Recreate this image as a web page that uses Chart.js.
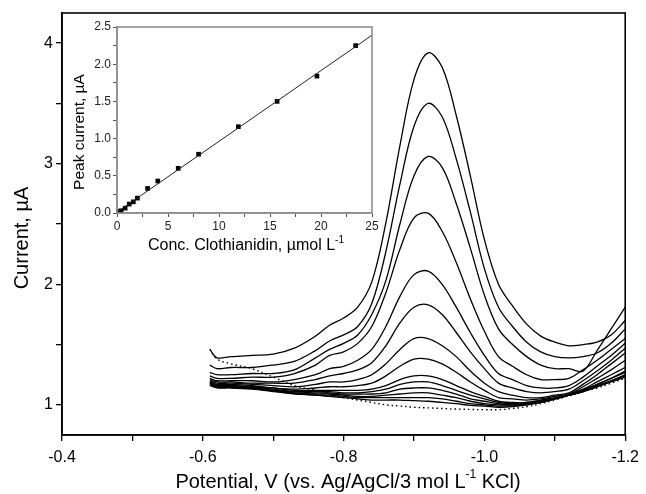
<!DOCTYPE html>
<html><head><meta charset="utf-8">
<script src="https://cdn.jsdelivr.net/npm/chart.js@4.4.1/dist/chart.umd.min.js"></script>
<style>
html,body{margin:0;padding:0;background:#fff;}
#wrap{position:relative;width:646px;height:494px;overflow:hidden;}
#main{position:absolute;left:0;top:0;}
#inset{position:absolute;left:64px;top:15px;}
</style></head><body>
<div id="wrap"><canvas id="main" width="646" height="494"></canvas><canvas id="inset" width="320" height="250"></canvas></div>
<script>
// ---- main voltammograms: potential (V) and current (µA) ----
const potential = [-0.61,-0.62,-0.64,-0.67,-0.70,-0.73,-0.76,-0.78,-0.80,-0.82,-0.84,-0.86,-0.88,-0.90,-0.92,-0.94,-0.96,-0.98,-1.00,-1.02,-1.04,-1.06,-1.08,-1.10,-1.12,-1.14,-1.16,-1.18,-1.20];
const curve1  = [1.46,1.39,1.40,1.41,1.42,1.47,1.57,1.66,1.72,1.81,2.02,2.51,3.15,3.70,3.92,3.80,3.40,2.90,2.37,2.00,1.82,1.67,1.57,1.52,1.49,1.50,1.52,1.58,1.70];
const curve2  = [1.33,1.30,1.31,1.31,1.33,1.36,1.45,1.53,1.58,1.65,1.84,2.27,2.83,3.31,3.50,3.39,3.04,2.60,2.13,1.81,1.65,1.52,1.44,1.40,1.39,1.40,1.43,1.51,1.63];
const curve3  = [1.27,1.25,1.25,1.26,1.26,1.29,1.39,1.46,1.51,1.58,1.75,2.03,2.50,2.90,3.06,2.97,2.67,2.30,1.91,1.63,1.50,1.40,1.33,1.30,1.30,1.28,1.45,1.63,1.81];
const curve4  = [1.24,1.22,1.22,1.23,1.23,1.26,1.33,1.41,1.44,1.51,1.65,1.93,2.29,2.55,2.59,2.44,2.18,1.88,1.61,1.40,1.32,1.25,1.21,1.21,1.22,1.29,1.37,1.46,1.55];
const curve5  = [1.22,1.20,1.20,1.20,1.19,1.21,1.25,1.30,1.32,1.37,1.46,1.65,1.90,2.08,2.11,2.00,1.81,1.60,1.41,1.26,1.21,1.16,1.14,1.14,1.16,1.23,1.32,1.41,1.51];
const curve6  = [1.21,1.19,1.19,1.18,1.18,1.18,1.21,1.24,1.26,1.29,1.35,1.49,1.68,1.81,1.83,1.75,1.60,1.44,1.30,1.18,1.14,1.11,1.10,1.11,1.13,1.20,1.28,1.37,1.47];
const curve7  = [1.20,1.18,1.18,1.17,1.16,1.15,1.17,1.19,1.19,1.21,1.25,1.34,1.46,1.55,1.55,1.49,1.40,1.28,1.18,1.11,1.08,1.06,1.06,1.08,1.10,1.17,1.25,1.34,1.43];
const curve8  = [1.19,1.17,1.17,1.16,1.14,1.13,1.14,1.15,1.15,1.16,1.18,1.24,1.32,1.38,1.38,1.34,1.27,1.19,1.12,1.06,1.05,1.04,1.05,1.07,1.09,1.15,1.22,1.29,1.37];
const curve9  = [1.19,1.16,1.16,1.15,1.14,1.12,1.12,1.12,1.12,1.12,1.13,1.16,1.21,1.24,1.24,1.21,1.16,1.11,1.07,1.03,1.02,1.02,1.04,1.06,1.09,1.13,1.19,1.25,1.31];
const curve10 = [1.18,1.16,1.16,1.15,1.13,1.11,1.11,1.11,1.10,1.10,1.11,1.13,1.17,1.19,1.19,1.16,1.12,1.08,1.05,1.02,1.01,1.02,1.03,1.05,1.08,1.12,1.17,1.22,1.28];
const curve11 = [1.18,1.155,1.15,1.14,1.12,1.11,1.10,1.10,1.09,1.09,1.09,1.10,1.13,1.14,1.14,1.12,1.09,1.05,1.03,1.01,1.00,1.01,1.03,1.05,1.08,1.12,1.17,1.22,1.27];
const curve12 = [1.17,1.15,1.15,1.14,1.12,1.10,1.09,1.09,1.08,1.07,1.07,1.08,1.09,1.10,1.10,1.08,1.06,1.03,1.01,1.00,1.00,1.01,1.02,1.05,1.08,1.11,1.16,1.20,1.25];
const curve13 = [1.17,1.145,1.145,1.135,1.115,1.095,1.08,1.08,1.07,1.06,1.06,1.06,1.06,1.06,1.06,1.05,1.03,1.01,1.00,0.99,0.99,1.00,1.02,1.05,1.08,1.11,1.15,1.20,1.24];
const curve14 = [1.16,1.14,1.14,1.13,1.11,1.09,1.08,1.07,1.06,1.05,1.04,1.04,1.04,1.035,1.03,1.02,1.01,0.995,0.99,0.98,0.985,1.00,1.02,1.05,1.08,1.11,1.15,1.19,1.23];
const blank   = [1.46,1.38,1.34,1.30,1.23,1.16,1.12,1.09,1.06,1.04,1.02,1.00,0.99,0.98,0.975,0.97,0.965,0.962,0.96,0.96,0.97,0.985,1.01,1.04,1.075,1.11,1.14,1.18,1.22];
const solidCurves = [curve1,curve2,curve3,curve4,curve5,curve6,curve7,curve8,curve9,curve10,curve11,curve12,curve13,curve14];

const xTicks = [-0.4,-0.5,-0.6,-0.7,-0.8,-0.9,-1.0,-1.1,-1.2];
const xLabeled = [-0.4,-0.6,-0.8,-1.0,-1.2];
const yTicks = [1,1.5,2,2.5,3,3.5,4];
const yLabeled = [1,2,3,4];

// ---- inset calibration ----
const conc = [0.2,0.4,0.8,1.2,1.6,2.0,3.0,4.0,6.0,8.0,11.9,15.7,19.6,23.4];
const peakCurrent = [0.02,0.03,0.065,0.12,0.15,0.20,0.33,0.43,0.60,0.79,1.16,1.50,1.84,2.25];
const fitConc = [0,25];
const fitCurrent = [0.012,2.39];
const insetXTicks = [0,2.5,5,7.5,10,12.5,15,17.5,20,22.5,25];
const insetXLabeled = [0,5,10,15,20,25];
const insetYTicks = [0,0.25,0.5,0.75,1.0,1.25,1.5,1.75,2.0,2.25,2.5];
const insetYLabeled = [0,0.5,1.0,1.5,2.0,2.5];

const near = (list, v) => list.some(m => Math.abs(m - v) < 1e-6);
const pts = (xs, ys) => xs.map((x, i) => ({x, y: ys[i]}));
const FONT = "'Liberation Sans', Arial, sans-serif";

function drawSupTitle(ctx, pre, sup, post, cx, cy, size, rot) {
  ctx.save();
  ctx.translate(cx, cy);
  if (rot) ctx.rotate(rot);
  const f = size + 'px ' + FONT, fs = Math.round(size * 0.62) + 'px ' + FONT;
  ctx.font = f; const w1 = ctx.measureText(pre).width; const w3 = ctx.measureText(post).width;
  ctx.font = fs; const w2 = sup ? ctx.measureText(sup).width : 0;
  let x = -(w1 + w2 + w3) / 2;
  ctx.fillStyle = '#000'; ctx.textBaseline = 'middle'; ctx.textAlign = 'left';
  ctx.font = f; ctx.fillText(pre, x, 0); x += w1;
  if (sup) { ctx.font = fs; ctx.fillText(sup, x, -size * 0.38); x += w2; }
  ctx.font = f; ctx.fillText(post, x, 0);
  ctx.restore();
}

const framePlugin = {
  id: 'frame',
  afterDraw(chart, args, o) {
    const {ctx, chartArea: a} = chart;
    ctx.save();
    ctx.strokeStyle = o.color; ctx.lineWidth = o.width;
    ctx.strokeRect(a.left, a.top, a.right - a.left, a.bottom - a.top);
    ctx.restore();
    (o.titles || []).forEach(t => drawSupTitle(ctx, t.pre, t.sup, t.post, t.x, t.y, t.size, t.rot));
  }
};

new Chart(document.getElementById('main'), {
  type: 'line',
  data: {
    datasets: solidCurves.map(c => ({
      data: pts(potential, c), borderColor: '#000', borderWidth: 1.3,
      pointRadius: 0, tension: 0.35, fill: false
    })).concat([{
      data: pts(potential, blank), borderColor: '#000', borderWidth: 1.4, borderDash: [1.5, 3],
      pointRadius: 0, tension: 0.35, fill: false
    }])
  },
  plugins: [framePlugin],
  options: {
    responsive: false, animation: false, devicePixelRatio: 1,
    layout: {padding: {left: 0, right: 14, top: 13, bottom: 0}},
    plugins: {
      legend: {display: false}, tooltip: {enabled: false},
      frame: {color: '#000', width: 1.6, titles: [
        {pre: 'Potential, V (vs. Ag/AgCl/3 mol L', sup: '-1', post: ' KCl)', x: 348, y: 482, size: 20},
        {pre: 'Current, µA', sup: '', post: '', x: 22, y: 238, size: 20, rot: -Math.PI / 2}
      ]}
    },
    scales: {
      x: {
        type: 'linear', min: -1.2, max: -0.4, reverse: true,
        afterBuildTicks: ax => { ax.ticks = xTicks.map(v => ({value: v})); },
        afterFit: ax => { ax.height = 59; },
        grid: {display: true, drawOnChartArea: false, drawTicks: true, tickLength: 6, color: '#000', lineWidth: 1.3},
        border: {display: true, color: '#000', width: 1.6},
        ticks: {autoSkip: false, maxRotation: 0, padding: 7, color: '#000', font: {family: FONT, size: 16},
          callback: v => near(xLabeled, v) ? v.toFixed(1) : ''}
      },
      y: {
        type: 'linear', min: 0.75, max: 4.25,
        afterBuildTicks: ax => { ax.ticks = yTicks.map(v => ({value: v})); },
        afterFit: ax => { ax.width = 62; },
        grid: {display: true, drawOnChartArea: false, drawTicks: true, tickLength: 6, color: '#000', lineWidth: 1.3},
        border: {display: true, color: '#000', width: 1.6},
        ticks: {autoSkip: false, padding: 3, color: '#000', font: {family: FONT, size: 16},
          callback: v => near(yLabeled, v) ? String(Math.round(v)) : ''}
      }
    }
  }
});

new Chart(document.getElementById('inset'), {
  type: 'scatter',
  data: {
    datasets: [
      {type: 'line', data: pts(fitConc, fitCurrent), borderColor: '#222', borderWidth: 1, pointRadius: 0, tension: 0},
      {data: pts(conc, peakCurrent), backgroundColor: '#000', borderColor: '#000', pointStyle: 'rect', pointRadius: 3.3, borderWidth: 0}
    ]
  },
  plugins: [framePlugin],
  options: {
    responsive: false, animation: false, devicePixelRatio: 1,
    layout: {padding: {left: 0, right: 12, top: 12, bottom: 0}},
    plugins: {
      legend: {display: false}, tooltip: {enabled: false},
      frame: {color: '#8e8e8e', width: 1.6, titles: [
        {pre: 'Conc. Clothianidin, µmol L', sup: '-1', post: '', x: 182, y: 231, size: 16},
        {pre: 'Peak current, µA', sup: '', post: '', x: 16, y: 117, size: 15.5, rot: -Math.PI / 2}
      ]}
    },
    scales: {
      x: {
        type: 'linear', min: 0, max: 25,
        afterBuildTicks: ax => { ax.ticks = insetXTicks.map(v => ({value: v})); },
        afterFit: ax => { ax.height = 52; },
        grid: {display: true, drawOnChartArea: false, drawTicks: true, tickLength: 4, color: '#555', lineWidth: 1},
        border: {display: true, color: '#8e8e8e', width: 1.6},
        ticks: {autoSkip: false, maxRotation: 0, padding: 2, color: '#222', font: {family: FONT, size: 12},
          callback: v => near(insetXLabeled, v) ? String(v) : ''}
      },
      y: {
        type: 'linear', min: 0, max: 2.5,
        afterBuildTicks: ax => { ax.ticks = insetYTicks.map(v => ({value: v})); },
        afterFit: ax => { ax.width = 53; },
        grid: {display: true, drawOnChartArea: false, drawTicks: true, tickLength: 4, color: '#555', lineWidth: 1},
        border: {display: true, color: '#8e8e8e', width: 1.6},
        ticks: {autoSkip: false, padding: 2, color: '#222', font: {family: FONT, size: 12},
          callback: v => near(insetYLabeled, v) ? v.toFixed(1) : ''}
      }
    }
  }
});
</script>
</body></html>
